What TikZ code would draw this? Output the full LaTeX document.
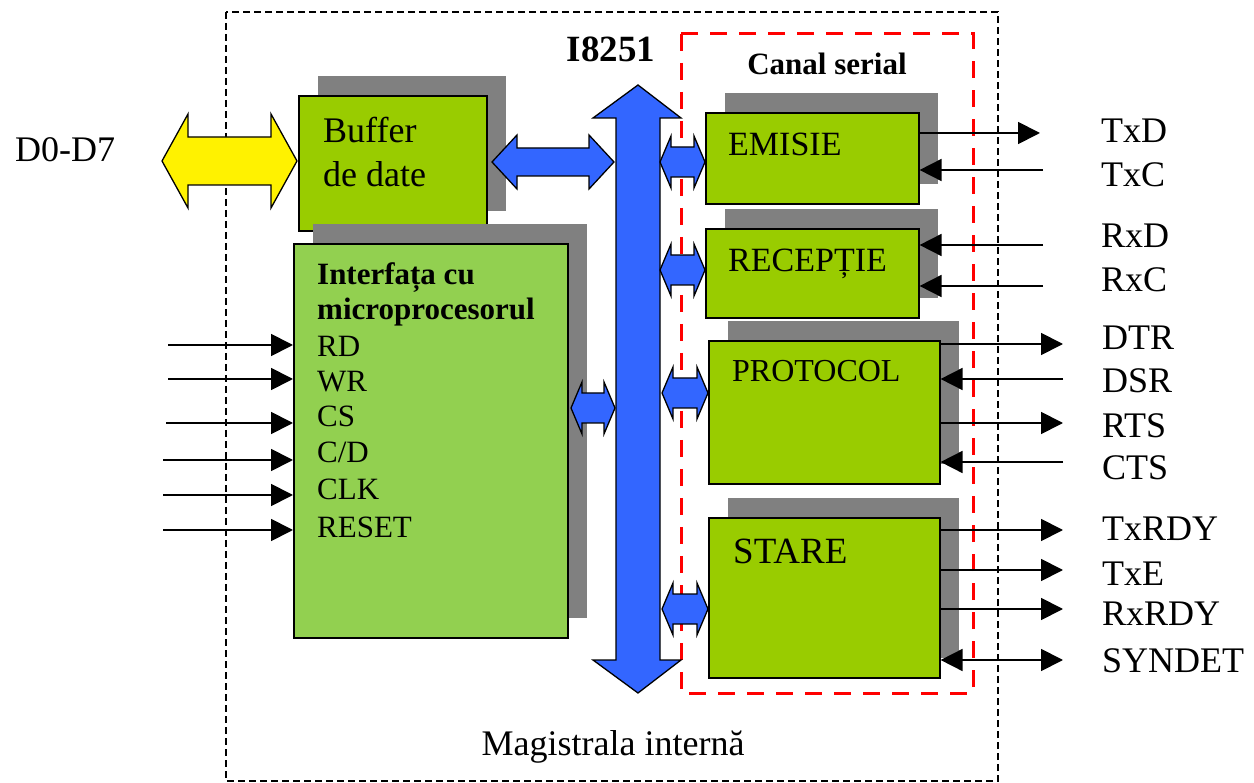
\documentclass[tikz,border=0pt]{standalone}
\usepackage{fontspec}
\setmainfont{Liberation Serif}
\usetikzlibrary{arrows.meta,shadows}
\definecolor{boxgreen}{RGB}{153,204,0}
\definecolor{intgreen}{RGB}{146,208,80}
\definecolor{shadowc}{RGB}{128,128,128}
\definecolor{busblue}{RGB}{51,102,255}
\definecolor{dred}{RGB}{255,0,0}
% horizontal double block arrow: x1, x2, y, shaft half, head half, head length, style
\newcommand\hdblarrow[7]{%
  \filldraw[#7] (#1,#3) -- (#1+#6,#3-#5) -- (#1+#6,#3-#4) -- (#2-#6,#3-#4) -- (#2-#6,#3-#5)
    -- (#2,#3) -- (#2-#6,#3+#5) -- (#2-#6,#3+#4) -- (#1+#6,#3+#4) -- (#1+#6,#3+#5) -- cycle;}
\begin{document}
\begin{tikzpicture}[x=1pt,y=-1pt,
  blk/.style={draw=black, line width=1.6pt, fill=boxgreen, inner sep=0, anchor=north west,
    drop shadow={shadow xshift=19pt, shadow yshift=20pt, opacity=1, fill=shadowc}},
  lbl/.style={inner sep=0, anchor=base west, font=\fontsize{36}{40}\selectfont},
  sig/.style={line width=1.8pt, -{Triangle[length=22pt,width=22pt]}},
  bsig/.style={line width=1.8pt, {Triangle[length=22pt,width=22pt]}-{Triangle[length=22pt,width=22pt]}},
  bluearr/.style={fill=busblue, draw=black, line width=1.3pt, line join=miter},
  yelarr/.style={fill=yellow, draw=black, line width=1.3pt, line join=miter}]
\useasboundingbox (0,0) rectangle (1254,783);
\fill[white] (0,0) rectangle (1254,783);

% outer dashed frame and serial channel frame
\draw[line width=1.4pt, dash pattern=on 7pt off 4pt] (226,12) rectangle (998,781);
\draw[dred, line width=3pt, dash pattern=on 17pt off 12pt] (681,34) rectangle (973,693);

% blocks
\node[blk, minimum width=188pt, minimum height=135pt] (buffer) at (298,95) {};
\node[blk, fill=intgreen, minimum width=274pt, minimum height=394pt] (intf) at (293,243) {};
\node[blk, minimum width=213pt, minimum height=91pt] (emisie) at (705,112) {};
\node[blk, minimum width=213pt, minimum height=89pt] (recep) at (705,228) {};
\node[blk, minimum width=231pt, minimum height=143pt] (proto) at (708,340) {};
\node[blk, minimum width=231pt, minimum height=160pt] (stare) at (708,517) {};

% block arrows
\hdblarrow{162}{297}{161}{24}{47}{26}{yelarr}
\hdblarrow{492}{614}{162}{14}{27}{25}{bluearr}
\filldraw[bluearr] (638,85) -- (681,118) -- (660,118) -- (660,660) -- (681,660) -- (638,693)
  -- (593,660) -- (616,660) -- (616,118) -- (593,118) -- cycle;
\hdblarrow{660}{705}{162}{15}{26}{11}{bluearr}
\hdblarrow{660}{705}{270}{15}{26}{11}{bluearr}
\hdblarrow{662}{708}{393}{15}{26}{11}{bluearr}
\hdblarrow{662}{708}{609}{15}{26}{11}{bluearr}
\hdblarrow{571}{615}{408}{15}{26}{11}{bluearr}

% free ends of signals
\coordinate (rdin) at (168,345);
\coordinate (wrin) at (168,379);
\coordinate (csin) at (166,423);
\coordinate (cdin) at (163,460);
\coordinate (clkin) at (163,495);
\coordinate (rstin) at (163,530);
\coordinate (txd) at (1040,133);
\coordinate (txc) at (1043,170);
\coordinate (rxd) at (1043,245);
\coordinate (rxc) at (1043,286);
\coordinate (dtr) at (1063,344);
\coordinate (dsr) at (1063,379);
\coordinate (rts) at (1063,423);
\coordinate (cts) at (1063,462);
\coordinate (txrdy) at (1063,530);
\coordinate (txe) at (1063,570);
\coordinate (rxrdy) at (1063,609);
\coordinate (syndet) at (1063,660);

% signals
\foreach \c in {rdin,wrin,csin,cdin,clkin,rstin}
  \draw[sig] (\c) -- (intf.west |- \c);
\draw[sig] (emisie.east |- txd) -- (txd);
\draw[sig] (txc) -- (emisie.east |- txc);
\draw[sig] (rxd) -- (recep.east |- rxd);
\draw[sig] (rxc) -- (recep.east |- rxc);
\draw[sig] (proto.east |- dtr) -- (dtr);
\draw[sig] (dsr) -- (proto.east |- dsr);
\draw[sig] (proto.east |- rts) -- (rts);
\draw[sig] (cts) -- (proto.east |- cts);
\draw[sig] (stare.east |- txrdy) -- (txrdy);
\draw[sig] (stare.east |- txe) -- (txe);
\draw[sig] (stare.east |- rxrdy) -- (rxrdy);
\draw[bsig] (stare.east |- syndet) -- (syndet);

% texts
\node[lbl] (tbuf1) at (323,143) {Buffer};
\node[lbl] (tbuf2) at (323,187) {de date};
\node[lbl, anchor=base, font=\bfseries\fontsize{37}{40}\selectfont] (ti8251) at (611,62) {I8251};
\node[lbl, anchor=base, font=\bfseries\fontsize{31}{36}\selectfont] (tcanal) at (827,75) {Canal serial};
\node[lbl, font=\fontsize{34}{40}\selectfont] (temis) at (728,156) {EMISIE};
\node[lbl, font=\fontsize{34}{40}\selectfont] (trecep) at (728,272) {RECEPȚIE};
\node[lbl, font=\fontsize{32}{40}\selectfont] (tproto) at (732,382) {PROTOCOL};
\node[lbl, font=\fontsize{37}{40}\selectfont] (tstare) at (733,563) {STARE};
\node[lbl, font=\bfseries\fontsize{31}{36}\selectfont] (tint1) at (317,285) {Interfața cu};
\node[lbl, font=\bfseries\fontsize{31}{36}\selectfont] (tint2) at (317,320) {microprocesorul};
\node[lbl, font=\fontsize{31}{36}\selectfont] (trd) at (317,357) {RD};
\node[lbl, font=\fontsize{31}{36}\selectfont] (twr) at (317,392) {WR};
\node[lbl, font=\fontsize{31}{36}\selectfont] (tcs) at (317,427) {CS};
\node[lbl, font=\fontsize{31}{36}\selectfont] (tcd) at (317,463) {C/D};
\node[lbl, font=\fontsize{31}{36}\selectfont] (tclk) at (317,500) {CLK};
\node[lbl, font=\fontsize{31}{36}\selectfont] (treset) at (317,537) {RESET};
\node[lbl] (ttxd) at (1101,143) {TxD};
\node[lbl] (ttxc) at (1101,187) {TxC};
\node[lbl] (trxd) at (1101,248) {RxD};
\node[lbl] (trxc) at (1101,292) {RxC};
\node[lbl] (tdtr) at (1102,350) {DTR};
\node[lbl] (tdsr) at (1102,393) {DSR};
\node[lbl] (trts) at (1102,438) {RTS};
\node[lbl] (tcts) at (1102,480) {CTS};
\node[lbl] (ttxrdy) at (1102,540) {TxRDY};
\node[lbl] (ttxe) at (1102,585) {TxE};
\node[lbl] (trxrdy) at (1102,625) {RxRDY};
\node[lbl] (tsyndet) at (1102,672) {SYNDET};
\node[lbl] (td0d7) at (15,162) {D0-D7};
\node[lbl, anchor=base] (tmag) at (613,755) {Magistrala internă};
\end{tikzpicture}
\end{document}
